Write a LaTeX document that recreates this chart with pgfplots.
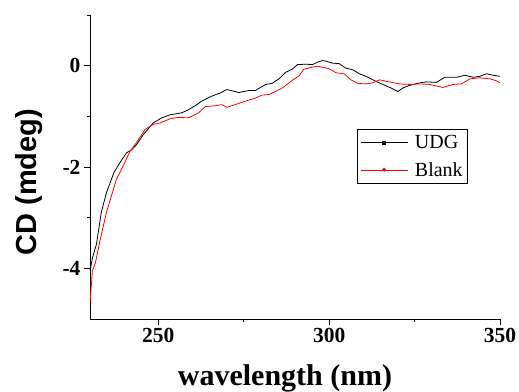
\documentclass[border=0pt]{standalone}
\usepackage{fontspec}
\setmainfont{Liberation Serif}
\newfontfamily\arial{Liberation Sans}
\usepackage{pgfplots}
\pgfplotsset{compat=1.18}
\begin{document}
\begin{tikzpicture}
\begin{axis}[
  scale only axis, width=410pt, height=304pt,
  xmin=230, xmax=350, ymin=-5, ymax=1,
  axis x line*=bottom, axis y line*=left,
  tick align=outside,
  xtick={250,300,350}, minor xtick={275,325},
  ytick={-4,-2,0}, minor ytick={-3,-1,1},
  major tick length=6pt, minor tick length=3pt,
  tick style={black, line width=0.9pt},
  axis line style={black, line width=0.9pt},
  /pgf/number format/assume math mode=true,
  ticklabel style={font=\fontsize{21.5}{22}\selectfont\bfseries},
  xlabel={wavelength (nm)},
  xlabel style={font=\fontsize{30}{30}\selectfont\bfseries, at={(axis description cs:0.4756,-0.218)}, anchor=base},
  ylabel={CD (mdeg)},
  ylabel style={font=\fontsize{29}{29}\selectfont\arial\bfseries, at={(axis description cs:-0.149,0.45)}, anchor=center},
  legend style={at={(axis description cs:0.651,0.625)}, anchor=north west, draw=black, line width=0.8pt,
    font=\fontsize{20}{22}\selectfont, inner xsep=3pt, inner ysep=4pt, row sep=8pt, column sep=5pt},
  legend cell align=left,
  legend image code/.code={\draw[mark repeat=2, mark phase=2, #1] plot coordinates {(0pt,0pt) (23.5pt,0pt) (47pt,0pt)};},
]
\addplot[black, line width=0.8pt, mark=none, forget plot] coordinates {
(230,-4.05) (230.7,-3.80) (231.9,-3.52) (233.3,-2.90) (234.8,-2.51) (237,-2.11) (238.7,-1.92) (240.7,-1.72) (242.2,-1.66) (243.6,-1.56) (245.6,-1.36) (248.5,-1.13) (251,-1.03) (253.4,-0.97) (256.9,-0.93) (258.8,-0.87) (260.8,-0.79) (262.7,-0.70) (265.7,-0.60) (268.1,-0.54) (270.1,-0.47) (273.5,-0.53) (276.5,-0.49) (278.4,-0.49) (281.4,-0.37) (283.3,-0.35) (285.3,-0.26) (287.3,-0.13) (289.2,-0.07) (290.7,0.02) (293.1,0.03) (295.1,0.02) (296.6,0.07) (298,0.10) (299,0.09) (301,0.05) (302.9,0.04) (304.9,-0.05) (306.9,-0.08) (308.8,-0.16) (310.8,-0.21) (313.7,-0.31) (315.7,-0.37) (318.1,-0.44) (320.1,-0.51) (321.6,-0.44) (323.5,-0.39) (326.5,-0.34) (328.4,-0.32) (331.4,-0.33) (333.8,-0.23) (337.3,-0.23) (339.7,-0.19) (342.2,-0.23) (344.1,-0.21) (346.1,-0.16) (348,-0.19) (350,-0.21)
};
\addplot[red, line width=0.8pt, mark=none, forget plot] coordinates {
(230,-4.68) (230.7,-4.05) (231.6,-3.89) (232.8,-3.49) (234.8,-2.90) (237.7,-2.25) (239.7,-1.98) (241.7,-1.69) (243.6,-1.52) (246.1,-1.26) (248.5,-1.16) (250.5,-1.13) (253.4,-1.05) (255.9,-1.02) (258.8,-1.03) (261.8,-0.93) (263.7,-0.81) (266.7,-0.79) (268.6,-0.77) (270.1,-0.82) (272.5,-0.77) (275.5,-0.70) (278.4,-0.64) (280.4,-0.58) (282.4,-0.57) (284.3,-0.51) (286.3,-0.44) (289.2,-0.29) (291.2,-0.20) (292.6,-0.07) (295.1,-0.03) (296.6,-0.01) (298,-0.03) (300,-0.06) (302,-0.14) (304.4,-0.16) (306.4,-0.28) (308.3,-0.35) (310.8,-0.36) (312.7,-0.34) (314.7,-0.28) (317.6,-0.32) (320.6,-0.36) (323.5,-0.37) (326.5,-0.36) (329.4,-0.37) (333.3,-0.43) (336.3,-0.37) (338.7,-0.36) (341.2,-0.26) (344.1,-0.24) (347.1,-0.26) (349,-0.30) (350,-0.34)
};
\addlegendimage{black, line width=0.6pt, mark=square*, mark size=1.5pt}
\addlegendentry{UDG}
\addlegendimage{red, line width=0.6pt, mark=*, mark size=1.6pt}
\addlegendentry{Blank}
\coordinate (sw) at (rel axis cs:0,0);
\coordinate (ne) at (rel axis cs:1,1);
\end{axis}
\pgfresetboundingbox
\path ([shift={(-90pt,-73pt)}]sw) rectangle ([shift={(19pt,15pt)}]ne);
\end{tikzpicture}
\end{document}
